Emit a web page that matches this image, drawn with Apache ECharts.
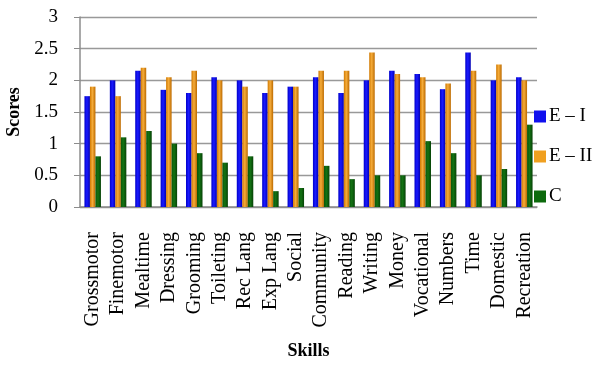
<!DOCTYPE html>
<html>
<head>
<meta charset="utf-8">
<script src="https://cdn.jsdelivr.net/npm/echarts@6/dist/echarts.min.js"></script>
<style>
  html, body { margin: 0; padding: 0; background: #fff; }
  #chart { width: 595px; height: 365px; }
</style>
</head>
<body>
<div id="chart"></div>
<script>
// Skill areas along the x axis
const skills = ['Grossmotor', 'Finemotor', 'Mealtime', 'Dressing', 'Grooming', 'Toileting',
  'Rec Lang', 'Exp Lang', 'Social', 'Community', 'Reading', 'Writing', 'Money',
  'Vocational', 'Numbers', 'Time', 'Domestic', 'Recreation'];

// Mean scores per group
const scoresE1 = [1.75, 2.0, 2.15, 1.85, 1.8, 2.05, 2.0, 1.8, 1.9, 2.05, 1.8, 2.0, 2.15, 2.1, 1.86, 2.44, 2.0, 2.05];
const scoresE2 = [1.9, 1.75, 2.2, 2.05, 2.15, 2.0, 1.9, 2.0, 1.9, 2.15, 2.15, 2.44, 2.1, 2.05, 1.95, 2.15, 2.25, 2.0];
const scoresC  = [0.8, 1.1, 1.2, 1.0, 0.85, 0.7, 0.8, 0.25, 0.3, 0.65, 0.44, 0.5, 0.5, 1.04, 0.85, 0.5, 0.6, 1.3];

const seriesNames = ['E \u2013 I', 'E \u2013 II', 'C'];

// Horizontal shading to give each bar a rounded, lit look
function shade(edge, mid, edge2) {
  return new echarts.graphic.LinearGradient(0, 0, 1, 0, [
    { offset: 0, color: edge },
    { offset: 0.45, color: mid },
    { offset: 1, color: edge2 }
  ]);
}

const palette = [
  shade('#0000c8', '#1a1aff', '#0000b4'),
  shade('#d07800', '#f5ac3a', '#bc6a00'),
  shade('#0a560a', '#137313', '#064206')
];
const legendColors = ['#1010ee', '#f0a020', '#0d6a0d'];

const font = '"Liberation Serif", "Times New Roman", serif';

const chart = echarts.init(document.getElementById('chart'));
chart.setOption({
  animation: false,
  textStyle: { fontFamily: font },
  grid: { left: 80, right: 58, top: 17, bottom: 158, containLabel: false, outerBoundsMode: 'none' },
  legend: {
    orient: 'vertical',
    left: 529,
    top: 102,
    itemWidth: 12,
    itemHeight: 12,
    itemGap: 21,
    icon: 'rect',
    textStyle: { fontFamily: font, fontSize: 19, color: '#000', padding: [0, 0, 0, -2] },
    data: seriesNames.map((n, i) => ({ name: n, itemStyle: { color: legendColors[i] } }))
  },
  xAxis: {
    type: 'category',
    data: skills,
    name: 'Skills',
    nameLocation: 'middle',
    nameGap: 135,
    nameTextStyle: { fontFamily: font, fontSize: 18, fontWeight: 'bold', color: '#000' },
    axisLine: { lineStyle: { color: '#8c8c8c', width: 1.5 } },
    axisTick: { show: false },
    axisLabel: {
      rotate: 90,
      interval: 0,
      margin: 25,
      fontFamily: font,
      fontSize: 20,
      color: '#000'
    }
  },
  yAxis: {
    type: 'value',
    min: 0,
    max: 3,
    interval: 0.5,
    name: 'Scores',
    nameLocation: 'middle',
    nameGap: 51,
    nameTextStyle: { fontFamily: font, fontSize: 18, fontWeight: 'bold', color: '#000' },
    axisLine: { show: true, lineStyle: { color: '#8c8c8c', width: 1.5 } },
    axisTick: { show: true, length: 6, lineStyle: { color: '#8c8c8c' } },
    axisLabel: { margin: 22, fontFamily: font, fontSize: 19, color: '#000' },
    splitLine: { lineStyle: { color: '#999999', width: 1.3 } }
  },
  series: [scoresE1, scoresE2, scoresC].map((vals, i) => ({
    name: seriesNames[i],
    type: 'bar',
    data: vals,
    barWidth: 5.5,
    barGap: '0%',
    itemStyle: { color: palette[i] }
  }))
});
</script>
</body>
</html>
